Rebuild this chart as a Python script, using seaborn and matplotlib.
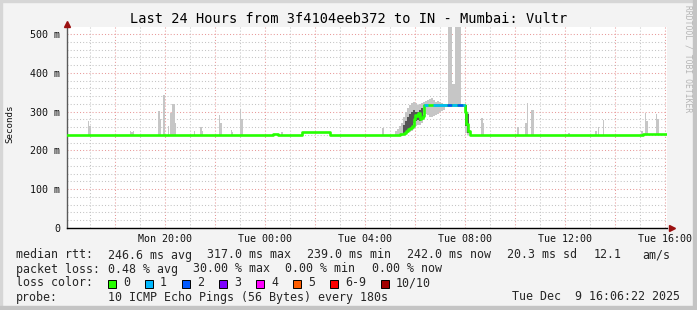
import numpy as np
import pandas as pd
import matplotlib
matplotlib.use("Agg")
import matplotlib.pyplot as plt
import seaborn as sns
from matplotlib.patches import Rectangle

# ---------------- data ----------------
title = "Last 24 Hours from 3f4104eeb372 to IN - Mumbai: Vultr"
hour_ticks = [4, 8, 12, 16, 20, 24]          # hours after Mon 16:00
hour_labels = ["Mon 20:00", "Tue 00:00", "Tue 04:00", "Tue 08:00", "Tue 12:00", "Tue 16:00"]
y_ticks = [0, 0.1, 0.2, 0.3, 0.4, 0.5]
y_labels = ["0", "100 m", "200 m", "300 m", "400 m", "500 m"]

# median rtt (ms), step values starting at given hour
median_t = [0.10, 8.34, 8.54, 9.50, 10.62, 13.42, 13.50, 13.58, 13.66, 13.74, 13.82, 13.90,
            13.96, 14.02, 14.08, 14.14, 14.20, 14.26, 14.32, 14.38, 16.02, 16.08, 16.14,
            16.20, 23.14, 24.10]
median_ms = [240, 243, 240, 247, 240, 241, 243, 246, 250, 254, 258, 262,
             280, 291, 288, 296, 280, 284, 288, 317, 299, 268, 250,
             240, 242, 242]

# packet-loss class of the median line (segments that are not 0 loss)
loss_t0 = [14.38, 14.74, 15.30, 15.50, 15.70, 15.94]
loss_t1 = [14.54, 15.30, 15.50, 15.70, 15.94, 16.02]
loss_cls = [1, 1, 2, 1, 2, 1]

# isolated smoke spikes (hour, max ms)
spike_t = [0.96, 1.02, 2.64, 2.70, 2.76, 3.78, 3.84, 3.98, 4.16, 4.26, 4.32, 4.38, 4.42,
           5.20, 5.46, 5.52, 6.20, 6.26, 6.68, 6.72, 7.04, 7.10, 8.70, 12.74, 16.70,
           16.76, 18.14, 18.46, 18.52, 18.68, 18.74, 20.18, 21.26, 21.36, 21.56, 23.10,
           23.24, 23.30, 23.68, 23.74]
spike_hi = [277, 262, 251, 248, 251, 301, 280, 343, 263, 297, 320, 320, 271,
            249, 260, 250, 290, 271, 253, 248, 306, 280, 248, 258, 284,
            270, 261, 270, 323, 304, 304, 245, 250, 261, 278, 251,
            296, 276, 293, 280]
spike_lo = 239

# light smoke around the elevated period (hour, min ms, max ms)
light_t = [13.26, 13.34, 13.42, 13.50, 13.58, 13.66, 13.74, 13.82, 13.90, 13.98, 14.06,
           14.14, 14.22, 14.30, 14.38, 14.46, 14.54, 14.62, 14.70, 14.78, 14.86, 14.94,
           15.02, 15.10, 15.18, 16.06, 16.14]
light_lo = [240, 240, 240, 240, 242, 244, 245, 248, 250, 255, 262,
            265, 265, 270, 300, 295, 290, 287, 285, 288, 292, 295,
            298, 302, 305, 245, 240]
light_hi = [250, 255, 262, 270, 285, 300, 310, 318, 322, 325, 322,
            318, 320, 322, 325, 328, 330, 333, 335, 330, 325, 328,
            325, 322, 320, 317, 300]

# dark (dense) smoke
dark_t = [13.58, 13.66, 13.74, 13.82, 13.90, 13.98, 14.06, 14.14, 14.22, 14.30, 16.06, 16.14]
dark_lo = [245, 248, 250, 255, 260, 270, 275, 278, 275, 280, 262, 245]
dark_hi = [265, 275, 285, 295, 300, 305, 300, 300, 305, 310, 317, 295]

# very tall smoke (goes off the top of the graph)
tall_t0 = [15.20, 15.32, 15.50, 15.62]
tall_t1 = [15.23, 15.50, 15.62, 15.86]
tall_hi = [600, 600, 370, 600]
tall_lo = 317

loss_labels = ["0", "1", "2", "3", "4", "5", "6-9", "10/10"]
loss_colors = ["#26ff00", "#00b8ff", "#0059ff", "#7e00ff", "#ff00ff", "#ff5e00", "#ff0000", "#a10000"]

row_rtt = [("median rtt:", 16), ("246.6 ms avg", 107.6), ("317.0 ms max", 207),
           ("239.0 ms min", 307), ("242.0 ms now", 407), ("20.3 ms sd", 507),
           ("12.1", 594), ("am/s", 642)]
row_loss = [("packet loss:", 16), ("0.48 % avg", 107.6), ("30.00 % max", 193),
            ("0.00 % min", 285), ("0.00 % now", 372)]
row_probe = [("probe:", 16), ("10 ICMP Echo Pings (56 Bytes) every 180s", 107.6),
             ("Tue Dec  9 16:06:22 2025", 512)]

# ---------------- figure ----------------
W, H = 697, 310
sns.set_style("white")
plt.rcParams["font.family"] = ["DejaVu Sans Mono", "DejaVu Sans"]
MONO = "DejaVu Sans Mono"

fig = plt.figure(figsize=(W / 100, H / 100), dpi=100, facecolor="#f3f3f3")


def fx(x):
    return x / W


def fy(y):
    return 1 - y / H


# frame shading
fig.patches.append(Rectangle((0, 0), fx(2), 1, transform=fig.transFigure, color="#d6d6d6", zorder=0))
fig.patches.append(Rectangle((0, fy(2)), 1, 2 / H, transform=fig.transFigure, color="#d6d6d6", zorder=0))
fig.patches.append(Rectangle((fx(W - 4), 0), 4 / W, 1, transform=fig.transFigure, color="#c4c4c4", zorder=0))
fig.patches.append(Rectangle((0, 0), 1, 4 / H, transform=fig.transFigure, color="#c4c4c4", zorder=0))

ax = fig.add_axes([fx(67), fy(228), 600 / W, 201 / H])
ax.set_facecolor("white")
ax.set_xlim(0.1, 24.1)
ax.set_ylim(0, 0.518)

# grid
for h in range(1, 25):
    ax.axvline(h, color="#e89a9a" if h % 2 == 0 else "#c4c4c4", lw=0.75,
               ls=(0, (1, 2)), zorder=0.5)
for k in range(1, 26):
    v = k * 0.02
    ax.axhline(v, color="#e89a9a" if k % 5 == 0 else "#c4c4c4", lw=0.75,
               ls=(0, (1, 2)), zorder=0.5)

ms = lambda a: np.asarray(a, dtype=float) / 1000.0

# smoke
ax.bar(spike_t, ms(spike_hi) - spike_lo / 1000, bottom=spike_lo / 1000, width=0.06,
       color="#c6c6c6", linewidth=0, zorder=1)
ax.bar(light_t, ms(light_hi) - ms(light_lo), bottom=ms(light_lo), width=0.08,
       color="#c6c6c6", linewidth=0, zorder=1)
t0 = np.asarray(tall_t0)
t1 = np.asarray(tall_t1)
ax.bar(t0, ms(tall_hi) - tall_lo / 1000, bottom=tall_lo / 1000, width=t1 - t0, align="edge",
       color="#c6c6c6", linewidth=0, zorder=1)
ax.bar(dark_t, ms(dark_hi) - ms(dark_lo), bottom=ms(dark_lo), width=0.08,
       color="#555555", linewidth=0, zorder=1.2)

# median line
df = pd.DataFrame({"t": median_t, "v": ms(median_ms)})
sns.lineplot(data=df, x="t", y="v", ax=ax, color=loss_colors[0], lw=1.9,
             drawstyle="steps-post", estimator=None, sort=False, zorder=3)
for a, b, c in zip(loss_t0, loss_t1, loss_cls):
    i = np.searchsorted(median_t, a, side="right") - 1
    ax.hlines(median_ms[i] / 1000, a, b, color=loss_colors[c], lw=1.9, zorder=3.5)

# axes styling
for s in ["top", "right"]:
    ax.spines[s].set_visible(False)
ax.spines["left"].set_color("#5a5a5a")
ax.spines["left"].set_linewidth(1.0)
ax.spines["bottom"].set_color("#000000")
ax.spines["bottom"].set_linewidth(1.0)
ax.set_xlabel("")
ax.set_ylabel("")

ax.set_xticks(hour_ticks)
ax.set_xticklabels(hour_labels, fontsize=7.2, family=MONO)
ax.set_xticks(range(1, 25), minor=True)
ax.set_yticks(y_ticks)
ax.set_yticklabels(y_labels, fontsize=7.2, family=MONO)
ax.set_yticks(np.arange(1, 26) * 0.02, minor=True)
ax.tick_params(axis="x", which="both", direction="out", length=2, width=0.7,
               color="#e08080", pad=2.5, labelcolor="#111111")
ax.tick_params(axis="y", which="both", direction="out", length=2, width=0.7,
               color="#999999", pad=3, labelcolor="#111111")

# arrows
ax.plot([0.0], [1.017], marker="^", color="#9b1010", markersize=4.5, transform=ax.transAxes,
        clip_on=False, zorder=5)
ax.plot([1.008], [0.0], marker=">", color="#9b1010", markersize=4.5, transform=ax.transAxes,
        clip_on=False, zorder=5)

# texts
fig.text(0.5, fy(19), title, ha="center", va="center", fontsize=9.8, family=MONO, color="#000000")
fig.text(fx(10), fy(124), "Seconds", rotation=90, ha="center", va="center", fontsize=6.6,
         family=MONO, color="#111111")
fig.text(fx(688), fy(59), "RRDTOOL / TOBI OETIKER", rotation=270, ha="center", va="center",
         fontsize=5.8, family=MONO, color="#b5b5b5")

LEG = 8.4
for txt, x in row_rtt:
    fig.text(fx(x), fy(255), txt, ha="left", va="center", fontsize=LEG, family=MONO)
for txt, x in row_loss:
    fig.text(fx(x), fy(269), txt, ha="left", va="center", fontsize=LEG, family=MONO)
fig.text(fx(16), fy(283), "loss color:", ha="left", va="center", fontsize=LEG, family=MONO)
box_x = [108, 145, 182, 219, 256, 293, 330, 381]
for lab, col, bx in zip(loss_labels, loss_colors, box_x):
    fig.patches.append(Rectangle((fx(bx), fy(287.5)), 8 / W, 8 / H, transform=fig.transFigure,
                                 facecolor=col, edgecolor="#000000", linewidth=0.7, zorder=3))
    fig.text(fx(bx + 15), fy(283), lab, ha="left", va="center", fontsize=LEG, family=MONO)
for txt, x in row_probe:
    fig.text(fx(x), fy(297), txt, ha="left", va="center", fontsize=LEG, family=MONO)

fig.savefig("out.png", dpi=100, facecolor=fig.get_facecolor())
